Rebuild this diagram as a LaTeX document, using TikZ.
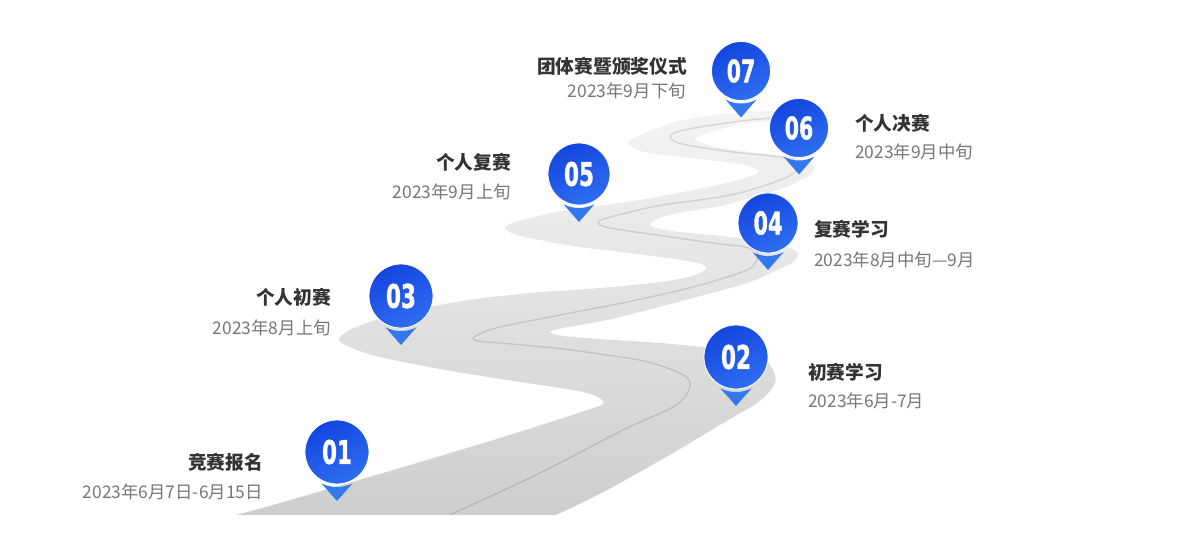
\documentclass[tikz,border=0pt]{standalone}
\usepackage{fontspec}
\newfontfamily\cjk{Noto Sans CJK SC}
\newfontfamily\numf[FakeBold=1.5]{DejaVu Sans Bold}
\usetikzlibrary{calc}
\definecolor{tcol}{HTML}{333333}
\definecolor{dcol}{HTML}{777777}
\definecolor{roadtop}{HTML}{F4F4F4}
\definecolor{roadbot}{HTML}{CDCDCD}
\definecolor{pinA}{HTML}{1445DF}
\definecolor{pinB}{HTML}{2E6EF0}
\definecolor{pinT}{HTML}{3478EE}
\tikzset{
 pinc/.style={circle, inner sep=0pt, top color=pinA, bottom color=pinB, shading angle=25, draw=white, line width=0.8pt, text=white},
 titlet/.style={font=\cjk\bfseries\fontsize{18.7}{20}\selectfont, text=tcol, inner sep=0pt},
 datet/.style={font=\cjk\fontsize{17.4}{19}\selectfont, text=dcol, inner sep=0pt},
}
\newcommand\mkpin[5]{%
  \pgfmathsetmacro\pinfs{min(#4,31)*1.05}%
  \pgfmathsetmacro\pinR{#4+3}%
  \pgfmathsetmacro\pinY{sqrt(\pinR*\pinR-15.5*15.5)}%
  \pgfmathsetmacro\pinA{atan2(\pinY,15.5)}%
  \pgfmathsetmacro\pinB{180-\pinA}%
  \pgfmathsetmacro\pinTip{#4+17}%
  \node[pinc, minimum size=#4*2pt] (#1) at (#2,#3) {\numf\fontsize{\pinfs}{\pinfs}\selectfont\scalebox{0.66}[1]{#5}};
  \begin{scope}[shift={(#1.center)}]
    \fill[pinT] (15.5,\pinY) -- (0,\pinTip) -- (-15.5,\pinY) arc[start angle=\pinB, end angle=\pinA, radius=\pinR] -- cycle;
  \end{scope}}
\begin{document}
\begin{tikzpicture}[x=1pt,y=-1pt]
\useasboundingbox[fill=white] (0,0) rectangle (1201,548);
\begin{scope}
\clip (0,0) rectangle (1201,514);
\shade[top color=roadtop, bottom color=roadbot] plot[smooth, tension=0.55] coordinates {
(205,524) (240,514) (280,503) (400,468) (500,438) (560,419) (590,409) (603,404)
(598,397) (573,390) (507,380) (440,369) (380,357) (352,348) (339,340)
(348,331) (370,322) (400,313) (463,301) (530,293) (600,288) (660,282) (692,276) (706,268)
(693,262) (630,253) (580,247) (530,238) (512,233) (505,228)
(515,222) (535,217) (557,212) (607,205) (657,197) (713,186) (745,178) (759,172)
(750,166) (733,163) (700,159) (650,153) (634,148) (628,143)
(638,136) (655,129) (683,120) (733,113) (773,111) (795,110) (797,117) (795,124)
(772,122) (750,123) (717,130) (700,136) (695,139)
(702,143) (717,147) (750,152) (785,156) (805,160) (814,167)
(810,175) (800,180) (783,188) (750,198) (720,206) (673,214) (655,220) (650,225)
(660,229) (680,232) (730,237) (770,243) (790,248) (798,254)
(793,262) (775,271) (747,283) (693,298) (628,315) (597,322) (563,328) (550,332)
(563,336) (600,339) (660,343) (703,347) (740,351) (765,360) (775,375)
(773,387) (757,403) (723,423) (673,453) (607,490) (558,514) (540,522)
} -- cycle;
\draw[black, opacity=0.12, line width=1.3pt] plot[smooth, tension=0.55] coordinates {
(440,520) (452,514) (540,473) (623,430) (673,407) (688,392) (689,380) (675,371) (644,361)
(600,354) (554,348) (500,343) (478,341) (473,338) (482,333) (500,327) (560,315) (627,302)
(693,287) (745,271) (755,263) (758,253) (745,247) (720,244) (657,235) (610,228) (598,223)
(607,218) (657,206) (720,197) (750,190) (783,179) (797,170) (796,162) (780,157) (733,152)
(687,145) (672,140) (671,135) (680,131) (700,127) (733,122) (770,118) (795,117)
};
\end{scope}
\mkpin{p1}{337}{452}{32}{01}
\mkpin{p2}{736}{357}{32}{02}
\mkpin{p3}{401}{296}{32}{03}
\mkpin{p4}{768}{223}{30}{04}
\mkpin{p5}{579}{174}{31}{05}
\mkpin{p6}{799}{128}{29.5}{06}
\mkpin{p7}{741}{71}{29.5}{07}
\node[titlet, anchor=base east] (t1) at (263,469) {竞赛报名};
\node[datet, anchor=base east] (d1) at (263,498) {2023年6月7日-6月15日};
\node[titlet, anchor=base east] (t3) at (331,304) {个人初赛};
\node[datet, anchor=base east] (d3) at (331,334) {2023年8月上旬};
\node[titlet, anchor=base east] (t5) at (511,170) {个人复赛};
\node[datet, anchor=base east] (d5) at (511,199) {2023年9月上旬};
\node[titlet, anchor=base east] (t7) at (687,74) {团体赛暨颁奖仪式};
\node[datet, anchor=base east] (d7) at (686,98) {2023年9月下旬};
\node[titlet, anchor=base west] (t2) at (808,379) {初赛学习};
\node[datet, anchor=base west] (d2) at (808,407) {2023年6月-7月};
\node[titlet, anchor=base west] (t4) at (814,236) {复赛学习};
\node[datet, anchor=base west] (d4) at (814,266) {2023年8月中旬—9月};
\node[titlet, anchor=base west] (t6) at (855,131) {个人决赛};
\node[datet, anchor=base west] (d6) at (855,159) {2023年9月中旬};
\end{tikzpicture}
\end{document}
